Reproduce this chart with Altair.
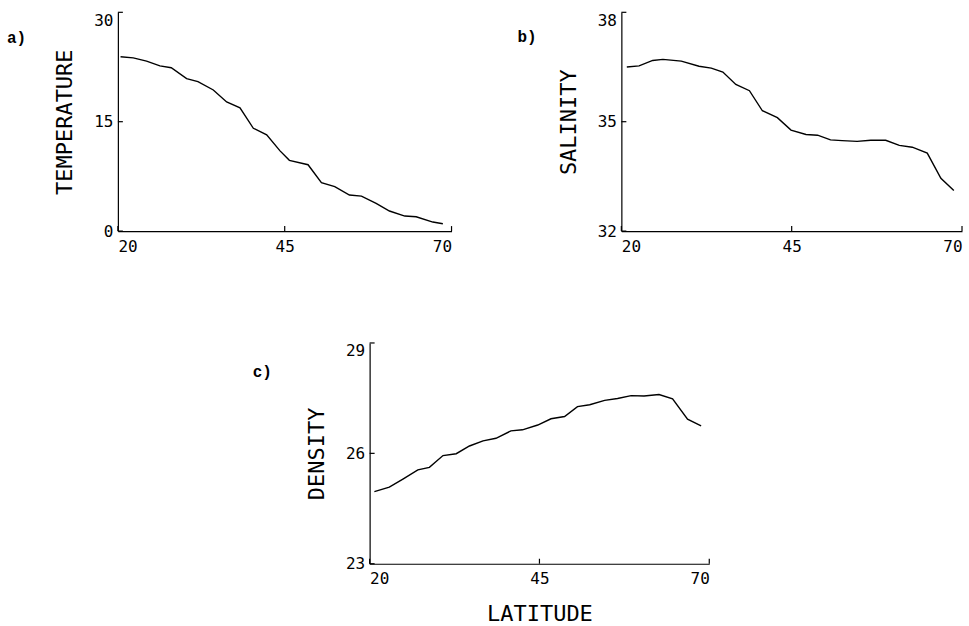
import altair as alt
import pandas as pd

# ---- data ----
lat_a = [20.4, 22.3, 24.3, 26.3, 28.0, 30.3, 32.0, 34.3, 36.3, 38.3, 40.3, 42.3, 44.3,
         45.7, 48.5, 50.5, 52.5, 54.7, 56.5, 58.7, 60.7, 63.0, 64.7, 67.2, 68.7]
temperature = [23.9, 23.75, 23.3, 22.65, 22.4, 20.9, 20.5, 19.35, 17.7, 16.9, 14.1, 13.2, 11.0,
               9.7, 9.1, 6.65, 6.1, 4.95, 4.8, 3.8, 2.75, 2.06, 1.97, 1.24, 1.0]

lat_b = [20.8, 22.6, 24.6, 26.1, 28.8, 31.4, 33.2, 34.9, 36.8, 38.8, 40.7, 42.9, 44.9,
         47.1, 48.8, 50.7, 52.4, 54.6, 56.6, 58.8, 60.8, 62.7, 64.9, 66.9, 68.8]
salinity = [36.50, 36.53, 36.68, 36.71, 36.66, 36.52, 36.47, 36.36, 36.02, 35.85, 35.30, 35.11, 34.77,
            34.65, 34.63, 34.50, 34.48, 34.46, 34.49, 34.49, 34.35, 34.30, 34.14, 33.45, 33.11]

lat_c = [20.7, 22.9, 24.9, 27.1, 28.8, 30.8, 32.75, 34.7, 36.7, 38.6, 40.8, 42.5, 44.75,
         46.7, 48.7, 50.6, 52.4, 54.6, 56.5, 58.5, 60.4, 62.6, 64.6, 66.8, 68.8]
density = [24.96, 25.08, 25.30, 25.55, 25.62, 25.94, 25.99, 26.20, 26.34, 26.41, 26.61, 26.64, 26.77,
           26.94, 27.00, 27.27, 27.32, 27.44, 27.49, 27.57, 27.56, 27.60, 27.48, 26.93, 26.75]

x_ticks = [20, 45, 70]
temp_ticks = [0, 15, 30]
sal_ticks = [32, 35, 38]
dens_ticks = [23, 26, 29]

FONT = "DejaVu Sans Mono"
LABEL_FONT = "Liberation Mono"


def panel(lat, vals, ytitle, yticks, w, h, tag, tag_dx, tag_dy, xtitle=None):
    df = pd.DataFrame({"lat": lat, "val": vals})
    xs = alt.Scale(domain=[x_ticks[0], x_ticks[-1]], nice=False, zero=False)
    ys = alt.Scale(domain=[yticks[0], yticks[-1]], nice=False, zero=False)

    xaxis = alt.Axis(
        values=x_ticks, ticks=False, grid=False, labelFlush=True, labelPadding=7,
        labelFont=FONT, labelFontSize=16, labelColor="black",
        domainColor="black", domainWidth=1.2,
        titleFont=FONT, titleFontSize=22, titleFontWeight="normal", titleColor="black",
        titleBaseline="alphabetic", titleY=57, titleX=w / 2, titleAlign="center",
    )
    yaxis = alt.Axis(
        values=yticks, ticks=False, grid=False, labelPadding=5,
        labelBaseline={"condition": {"test": f"datum.value == {yticks[-1]}", "value": "top"},
                       "value": "middle"},
        labelFont=FONT, labelFontSize=16, labelColor="black",
        domainColor="black", domainWidth=1.2,
        titleFont=FONT, titleFontSize=22, titleFontWeight="normal", titleColor="black",
        titleBaseline="alphabetic", titleX=-46, titleY=h / 2, titleAlign="center",
        titleAngle=270,
    )

    line = alt.Chart(df).mark_line(color="black", strokeWidth=1.4).encode(
        x=alt.X("lat:Q", scale=xs, axis=xaxis, title=xtitle),
        y=alt.Y("val:Q", scale=ys, axis=yaxis, title=ytitle),
    )
    yt = alt.Chart(pd.DataFrame({"val": yticks})).mark_rule(color="black", strokeWidth=1.2).encode(
        y=alt.Y("val:Q"), x=alt.value(0), x2=alt.value(5)
    )
    xt = alt.Chart(pd.DataFrame({"lat": x_ticks})).mark_rule(color="black", strokeWidth=1.2).encode(
        x=alt.X("lat:Q"), y=alt.value(h), y2=alt.value(h - 5)
    )
    return alt.layer(line, yt, xt).properties(
        width=w, height=h,
        title=alt.TitleParams(
            text=tag, anchor="start", frame="group", orient="top", offset=0,
            dx=tag_dx, dy=tag_dy, baseline="alphabetic",
            font=LABEL_FONT, fontSize=16, fontWeight="bold", color="black",
        ),
    )


a = panel(lat_a, temperature, "TEMPERATURE", temp_ticks, 334, 219, "a)", -111, 47)
b = panel(lat_b, salinity, "SALINITY", sal_ticks, 341, 219, "b)", -104, 46)
c = panel(lat_c, density, "DENSITY", dens_ticks, 340, 221, "c)", -117, 51, xtitle="LATITUDE")

spacer = alt.Chart(pd.DataFrame({"v": [0]})).mark_point(opacity=0).encode(
    x=alt.value(0), y=alt.value(0)
).properties(width=252, height=221)

top = alt.hconcat(a, b, spacing=170, bounds="flush")
bottom = alt.hconcat(spacer, c, spacing=0, bounds="flush")

chart = alt.vconcat(top, bottom, spacing=86).properties(
    padding={"left": 7, "top": 11, "right": 6, "bottom": 0},
    background="white",
).configure_view(strokeWidth=0)

chart.save("out.html", embed_options={"renderer": "svg", "actions": False})
